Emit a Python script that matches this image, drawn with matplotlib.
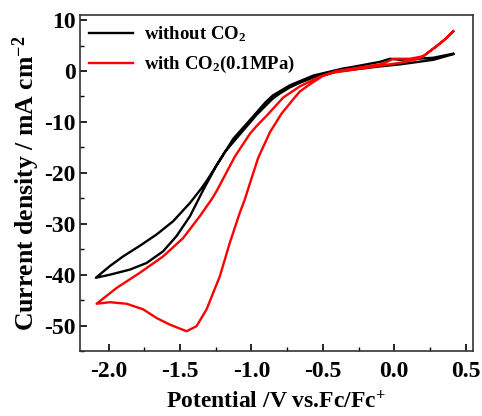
import matplotlib
matplotlib.use("Agg")
import matplotlib.pyplot as plt
from matplotlib.ticker import MultipleLocator

plt.rcParams["font.family"] = "Liberation Serif"
plt.rcParams["font.weight"] = "bold"
plt.rcParams["axes.unicode_minus"] = False
plt.rcParams["mathtext.fontset"] = "custom"
plt.rcParams["mathtext.rm"] = "Liberation Serif:bold"
plt.rcParams["mathtext.default"] = "rm"

# without CO2 : closed loop, right tip -> left tip -> back to right tip
e_n2 = [0.413, 0.273, 0.04, -0.1, -0.31, -0.403, -0.543, -0.66, -0.73, -0.80,
        -0.85, -0.90, -0.964, -1.0, -1.08, -1.186, -1.244, -1.338, -1.43, -1.524,
        -1.618, -1.734, -1.851, -1.991, -2.089,
        -1.991, -1.898, -1.78, -1.664, -1.548, -1.43, -1.349, -1.314, -1.209,
        -1.127, -1.0, -0.95, -0.90, -0.85, -0.73, -0.567, -0.357, -0.31, -0.1,
        -0.03, 0.04, 0.273, 0.413]
j_n2 = [3.3, 2.2, 1.3, 0.9, 0.2, -0.1, -1.0, -2.3, -3.2, -4.4,
        -5.4, -6.8, -8.6, -9.8, -12.4, -15.9, -18.5, -23.4, -28.5, -32.4,
        -35.4, -37.7, -39.0, -40.0, -40.6,
        -38.3, -36.4, -34.3, -32.1, -29.5, -25.9, -23.0, -21.6, -17.0,
        -13.3, -9.3, -7.7, -6.1, -4.8, -2.8, -0.9, 0.5, 0.7, 1.8,
        2.4, 2.2, 2.6, 3.4]

# with CO2 (0.1 MPa)
e_co2 = [0.413, 0.367, 0.297, 0.203, 0.11, -0.007, -0.05, -0.1, -0.193, -0.31,
         -0.403, -0.497, -0.59, -0.66, -0.70, -0.79, -0.87, -0.952, -1.01,
         -1.046, -1.081, -1.151, -1.221, -1.314, -1.384, -1.454, -1.571, -1.664,
         -1.758, -1.874, -1.991, -2.084,
         -1.944, -1.78, -1.618, -1.478, -1.361, -1.279, -1.244, -1.116, -1.01,
         -0.964, -0.894, -0.777, -0.66, -0.52, -0.427, -0.193, 0.04, 0.157,
         0.203, 0.297, 0.367, 0.413]
j_co2 = [7.8, 6.5, 4.9, 2.9, 2.4, 2.4, 1.8, 1.3, 0.9, 0.4,
         0.0, -0.9, -2.6, -4.0, -5.3, -8.4, -12.0, -17.0, -22.0,
         -25.2, -27.8, -33.7, -40.3, -46.8, -50.1, -51.1, -49.8, -48.5,
         -46.8, -45.7, -45.4, -45.7,
         -42.6, -39.6, -36.4, -32.8, -28.5, -25.2, -23.6, -16.8, -12.3,
         -10.8, -8.8, -5.2, -3.0, -1.1, -0.33, 0.65, 1.6, 2.3,
         2.9, 4.9, 6.5, 7.8]

fig = plt.figure(figsize=(4.82, 4.16), dpi=100)
ax = fig.add_axes([0.166, 0.156, 0.815, 0.808])

ax.plot(e_n2, j_n2, color="black", lw=1.7, label="without CO$_2$")
ax.plot(e_co2, j_co2, color="red", lw=1.7, label="with CO$_2$(0.1MPa)")

ax.set_xlim(-2.2, 0.55)
ax.set_ylim(-55, 11)
ax.xaxis.set_major_locator(MultipleLocator(0.5))
ax.xaxis.set_minor_locator(MultipleLocator(0.25))
ax.yaxis.set_major_locator(MultipleLocator(10))
ax.yaxis.set_minor_locator(MultipleLocator(5))
ax.tick_params(which="both", direction="in", top=False, right=False, labelsize=17)
ax.tick_params(which="major", length=5, width=1.2)
ax.tick_params(which="minor", length=3, width=1.0)
ax.tick_params(axis="x", pad=7)
ax.tick_params(axis="y", pad=3)
for s in ax.spines.values():
    s.set_linewidth(1.2)
    s.set_color("#333333")

ax.set_xlabel("Potential /V vs.Fc/Fc$^{+}$", fontsize=17, fontweight="bold", labelpad=6)
ax.set_ylabel("Current density / mA cm$^{-2}$", fontsize=18.5, fontweight="bold", labelpad=2)

ax.legend(loc="upper left", frameon=False, fontsize=13.5, handlelength=2.3,
          borderaxespad=0.1, labelspacing=0.55, handletextpad=0.6)

fig.savefig("out.png", dpi=100)
